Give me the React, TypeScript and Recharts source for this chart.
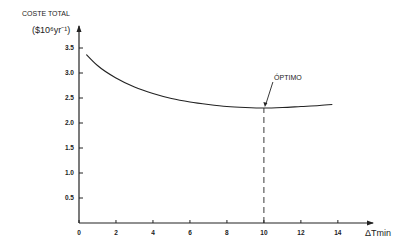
import React from 'react';
import { ComposedChart, Line, XAxis, YAxis, ReferenceLine, ReferenceDot } from 'recharts';

const dTmin = [0.4, 1, 2, 3, 4, 5, 6, 7, 8, 9, 10, 11, 12, 13, 13.7];
const costeTotal = [3.37, 3.15, 2.9, 2.72, 2.59, 2.49, 2.42, 2.37, 2.33, 2.31, 2.3, 2.31, 2.33, 2.35, 2.37];
const xTicks = [0, 2, 4, 6, 8, 10, 12, 14];
const yTicks = [0.5, 1.0, 1.5, 2.0, 2.5, 3.0, 3.5];
const optimo = { x: 10, y: 2.3 };
const X_MAX = 15.9;
const Y_MAX = 3.94;

const data = dTmin.map((x, i) => ({ x, coste: costeTotal[i] }));

const INK = '#222';
const FONT = '"Liberation Sans", Arial, sans-serif';

const UpArrow = ({ cx, cy }: any) => (
  <path d={`M${cx - 2.5},${cy + 6} L${cx},${cy - 1} L${cx + 2.5},${cy + 6} Z`} fill={INK} />
);

const RightArrow = ({ cx, cy }: any) => (
  <path d={`M${cx - 6},${cy - 2.5} L${cx + 1},${cy} L${cx - 6},${cy + 2.5} Z`} fill={INK} />
);

// flecha y texto "ÓPTIMO" apuntando al mínimo
const OptimoMark = ({ cx, cy }: any) => (
  <g>
    <line x1={cx + 9} y1={cy - 26} x2={cx + 2} y2={cy - 4} stroke={INK} strokeWidth={0.9} />
    <path d={`M${cx + 1},${cy - 1} L${cx - 0.5},${cy - 6} L${cx + 3.5},${cy - 5} Z`} fill={INK} />
    <text x={cx + 24} y={cy - 28} fontSize={7} fill={INK} textAnchor="middle" fontFamily={FONT}>
      ÓPTIMO
    </text>
  </g>
);

const tickStyle = { fontSize: 6.5, fill: INK, fontWeight: 700, fontFamily: FONT };

export default function App() {
  return (
    <div style={{ position: 'absolute', left: 0, top: 0, width: 400, height: 247, background: '#fff' }}>
      <ComposedChart width={400} height={247} data={data} margin={{ top: 26, right: 27, bottom: 0, left: 49 }}>
        <XAxis
          dataKey="x"
          type="number"
          domain={[0, X_MAX]}
          ticks={xTicks}
          tick={tickStyle}
          tickSize={-3}
          tickMargin={10}
          stroke={INK}
          axisLine={{ stroke: INK, strokeWidth: 1.2 }}
          height={24}
        />
        <YAxis
          type="number"
          domain={[0, Y_MAX]}
          ticks={yTicks}
          tickFormatter={(v: number) => v.toFixed(1)}
          tick={tickStyle}
          tickSize={-4}
          tickMargin={9}
          stroke={INK}
          axisLine={{ stroke: INK, strokeWidth: 1.2 }}
          width={30}
        />
        <ReferenceLine
          segment={[{ x: optimo.x, y: 0 }, { x: optimo.x, y: optimo.y }]}
          stroke={INK}
          strokeWidth={0.9}
          strokeDasharray="6 4"
        />
        <Line
          dataKey="coste"
          type="monotone"
          stroke={INK}
          strokeWidth={1.1}
          dot={false}
          isAnimationActive={false}
        />
        <ReferenceDot x={0.0001} y={Y_MAX} ifOverflow="visible" shape={UpArrow} />
        <ReferenceDot x={X_MAX} y={0.0001} ifOverflow="visible" shape={RightArrow} />
        <ReferenceDot x={optimo.x} y={optimo.y} ifOverflow="visible" shape={OptimoMark} />
      </ComposedChart>
      <div style={{ position: 'absolute', left: 22, top: 10, fontSize: 7, fontFamily: FONT, color: INK }}>
        COSTE TOTAL
      </div>
      <div style={{ position: 'absolute', left: 32, top: 23, fontSize: 9, fontFamily: FONT, color: INK }}>
        ($10⁶yr⁻¹)
      </div>
      <div style={{ position: 'absolute', left: 365, top: 228, fontSize: 9, fontFamily: FONT, color: INK }}>
        ΔTmin
      </div>
    </div>
  );
}
